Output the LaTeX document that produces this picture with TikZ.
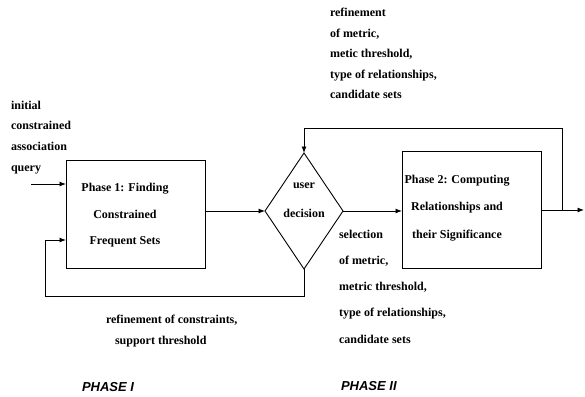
\documentclass[tikz,border=0pt]{standalone}
\usepackage{fontspec}
\setmainfont{Liberation Serif}
\setsansfont{Liberation Sans}
\usetikzlibrary{shapes.geometric,arrows.meta}
\begin{document}
\begin{tikzpicture}[x=1pt,y=-1pt,
  every node/.style={inner sep=0pt,outer sep=0pt},
  box/.style={draw,line width=0.9pt,minimum width=139pt},
  dec/.style={draw,line width=0.9pt,diamond,minimum width=78pt,minimum height=116pt},
  txt/.style={font=\bfseries\fontsize{12}{20.6}\selectfont,align=left,anchor=north west},
  btxt/.style={font=\bfseries\fontsize{12}{26.5}\selectfont,align=center},
  ph/.style={font=\sffamily\bfseries\itshape\fontsize{13}{15}\selectfont},
  arr/.style={line width=0.9pt,-{Latex[length=6.5pt,width=5pt]}}]
\useasboundingbox (0,0) rectangle (585,396);
% boxes
\node[box,minimum height=108pt] (p1) at (135.5,214) {};
\node[btxt] (p1t) at (125,215.5) {Phase 1: Finding\\Constrained\\Frequent Sets};
\node[dec] (dm) at (304,211) {};
\node[font=\bfseries\fontsize{12}{29}\selectfont,align=center] (dmt) at (304,200) {user\\decision};
\node[box,minimum height=117pt] (p2) at (471.5,210) {};
\node[btxt,font=\bfseries\fontsize{12}{27.5}\selectfont] (p2t) at (457,208) {Phase 2: Computing\\Relationships and\\their Significance};
% texts
\node[txt] (tin) at (11,101) {initial\\constrained\\association\\query};
\node[txt] (ttop) at (330,8) {refinement\\of metric,\\metic threshold,\\type of relationships,\\candidate sets};
\node[txt,font=\bfseries\fontsize{12}{26.2}\selectfont] (tsel) at (339,230) {selection\\of metric,\\metric threshold,\\type of relationships,\\candidate sets};
\node[txt,font=\bfseries\fontsize{12}{21}\selectfont] (tref) at (106,315) {refinement of constraints,\\\hspace*{9pt}support threshold};
\node[ph,anchor=west] (ph1) at (82,387) {PHASE I};
\node[ph,anchor=west] (ph2) at (341,386) {PHASE II};
% coordinates
\coordinate (inS) at (31,184);
\coordinate (out) at (584,210);
\coordinate (jn) at (562,210);
\coordinate (topc) at (0,128);
\coordinate (fbL) at (45,296);
\coordinate (fbin) at (45,240);
% connectors
\draw[arr] (inS) -- (inS -| p1.west);
\draw[arr] (p1.east |- dm.west) -- (dm.west);
\draw[arr] (dm.east) -- (dm.east -| p2.west);
\draw[arr] (p2.east) -- (out);
\draw[arr] (jn) |- (dm.north |- topc) -- (dm.north);
\draw[arr] (dm.south) |- (fbL) |- (fbin -| p1.west);
\end{tikzpicture}
\end{document}
